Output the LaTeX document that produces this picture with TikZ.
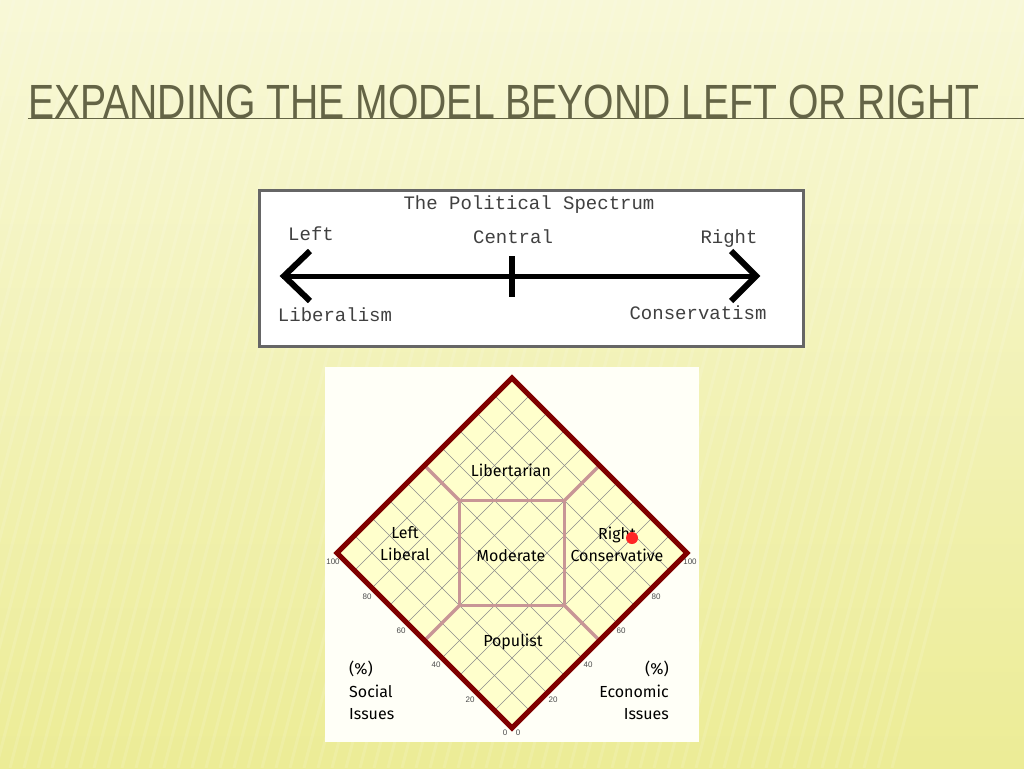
\documentclass[tikz,border=0pt]{standalone}
\usepackage{fontspec}
\setmainfont{Liberation Sans}
\newfontfamily\monof{Liberation Mono}
\newfontfamily\comicf{Fira Sans}
\definecolor{bgtop}{RGB}{248,248,215}
\definecolor{bgbot}{RGB}{236,236,150}
\definecolor{titlec}{RGB}{100,100,70}
\definecolor{dred}{RGB}{128,0,0}
\definecolor{rose}{RGB}{200,150,150}
\definecolor{cream}{RGB}{255,255,204}
\begin{document}
\begin{tikzpicture}[x=1pt,y=-1pt,
  mono/.style={font=\monof\fontsize{19}{19}\selectfont, text=black!75},
  dlab/.style={font=\comicf\fontsize{16}{18}\selectfont, text=black, inner sep=0pt},
  tick/.style={font=\fontsize{8}{8}\selectfont, text=black!70, inner sep=0pt}]
\useasboundingbox (0,0) rectangle (1024,768);
\shade[top color=bgtop, bottom color=bgbot] (0,0) rectangle (1024,768);
\foreach \k in {0,14,...,1100} \draw[white, opacity=0.12, line width=3pt] (\k-200,768) -- (\k,0);
% title
\node[anchor=west, inner sep=0pt, text=titlec] (title) at (28,102) {\scalebox{0.815}[1]{\fontsize{48}{48}\selectfont EXPANDING THE MODEL BEYOND LEFT OR RIGHT}};
\coordinate (ul) at (28,118); \coordinate (ur) at (1024,118);
\draw[titlec, line width=0.8pt] (ul) -- (ur);
% spectrum box
\node[draw=black!60, line width=2.5pt, fill=white, minimum width=544pt, minimum height=156pt, anchor=north west, inner sep=0pt] (box) at (258,189) {};
\node[mono] (tps) at (529,205) {The Political Spectrum};
\node[mono] (lft) at (311,234) {Left};
\node[mono] (cen) at (513,237) {Central};
\node[mono] (rgt) at (729,239) {Right};
\node[mono] (lib) at (335,315) {Liberalism};
\node[mono] (con) at (698,313) {Conservatism};
\coordinate (al) at (282,276); \coordinate (ar) at (757,276);
\draw[line width=5pt] (al) -- (ar);
\draw[line width=6pt] (310,251) -- (284,276) -- (310,301);
\draw[line width=6pt] (731,251) -- (756,276) -- (731,301);
\coordinate (tt) at (512,256); \coordinate (tb) at (512,297);
\draw[line width=6pt] (tt) -- (tb);
% diamond panel
\fill[white!85!cream] (325,367) rectangle (699,742);
\newcommand{\PP}[2]{({512+17.5*((#1)-(#2))},{728-17.5*((#1)+(#2))})}
\fill[cream] \PP{0}{0} -- \PP{10}{0} -- \PP{10}{10} -- \PP{0}{10} -- cycle;
\foreach \i in {1,...,9} {
  \draw[black!45, line width=0.5pt] \PP{\i}{0} -- \PP{\i}{10};
  \draw[black!45, line width=0.5pt] \PP{0}{\i} -- \PP{10}{\i};
}
\draw[rose, line width=3.5pt, line join=miter] \PP{5}{8} -- \PP{8}{5} -- \PP{5}{2} -- \PP{2}{5} -- cycle;
\draw[rose, line width=3.5pt] \PP{5}{8} -- \PP{5}{10};
\draw[rose, line width=3.5pt] \PP{8}{5} -- \PP{10}{5};
\draw[rose, line width=3.5pt] \PP{5}{2} -- \PP{5}{0};
\draw[rose, line width=3.5pt] \PP{2}{5} -- \PP{0}{5};
\draw[dred, line width=5pt, line join=miter] \PP{0}{0} -- \PP{10}{0} -- \PP{10}{10} -- \PP{0}{10} -- cycle;
\node[dlab] (n1) at (511,470) {Libertarian};
\node[dlab, align=center] (n2) at (405,544) {Left\\[4pt]Liberal};
\node[dlab] (n3) at (511,556) {Moderate};
\node[dlab, align=center] (n4) at (617,544) {Right\\[4pt]Conservative};
\node[dlab] (n5) at (513,642) {Populist};
\node[dlab, anchor=west] (p1) at (349,669) {(\%)};
\node[dlab, anchor=west] (p2) at (349,691) {Social};
\node[dlab, anchor=west] (p3) at (349,714) {Issues};
\node[dlab, anchor=east] (q1) at (669,669) {(\%)};
\node[dlab, anchor=east] (q2) at (669,691) {Economic};
\node[dlab, anchor=east] (q3) at (669,714) {Issues};
\fill[red!85!white] (632,538) circle (6pt);
\node[tick] (l100) at (333,562) {100};
\node[tick] (l80) at (367,597) {80};
\node[tick] (l60) at (401,631) {60};
\node[tick] (l40) at (436,665) {40};
\node[tick] (l20) at (470,700) {20};
\node[tick] (l0) at (505,733) {0};
\node[tick] (r0) at (518,733) {0};
\node[tick] (r20) at (553,700) {20};
\node[tick] (r40) at (588,665) {40};
\node[tick] (r60) at (621,631) {60};
\node[tick] (r80) at (656,597) {80};
\node[tick] (r100) at (690,562) {100};
\end{tikzpicture}
\end{document}
